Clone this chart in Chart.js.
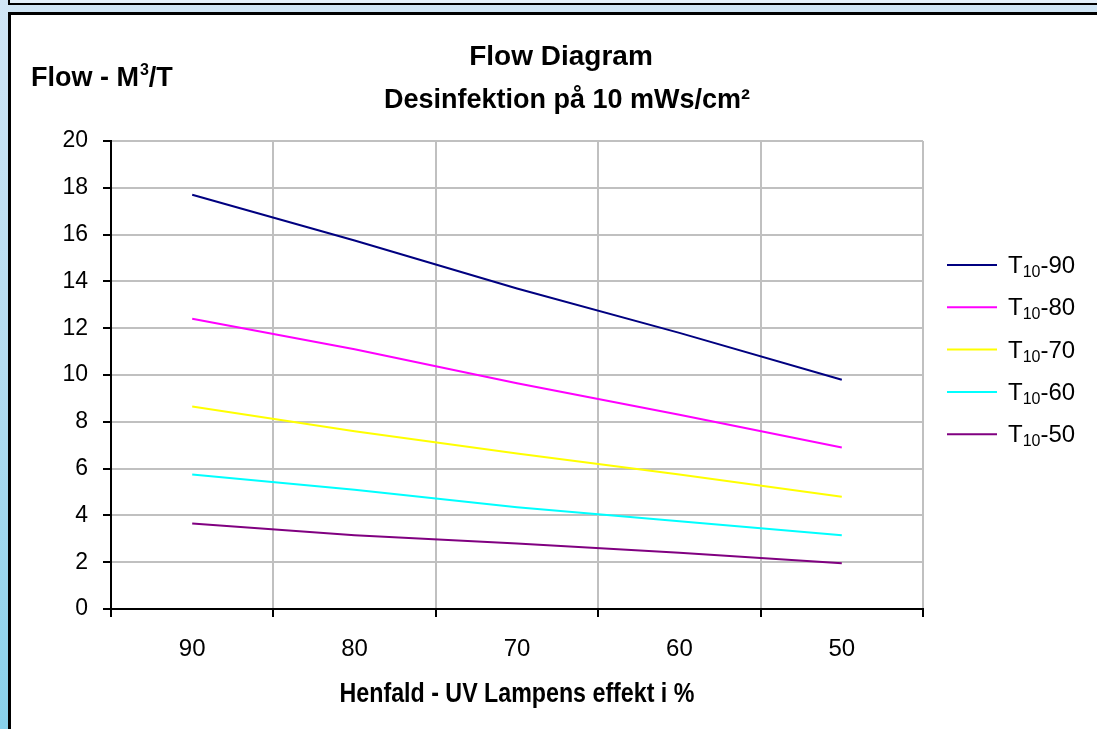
<!DOCTYPE html>
<html>
<head>
<meta charset="utf-8">
<title>Flow Diagram</title>
<script src="https://cdn.jsdelivr.net/npm/chart.js@4.4.1/dist/chart.umd.min.js"></script>
<style>
  html, body { margin: 0; padding: 0; }
  body {
    width: 1097px; height: 729px; overflow: hidden; position: relative;
    background: linear-gradient(to bottom, #d0e5f5 0%, #b4dcf0 50%, #88d1eb 100%);
  }
  #strip {
    position: absolute; left: 8px; top: -10px; width: 1200px; height: 11px;
    background: #e4f0fa; border: 2px solid #000;
  }
  #panel {
    position: absolute; left: 8px; top: 12px; width: 1200px; height: 800px;
    background: #fff; border: 3px solid #000;
  }
  #chart { position: absolute; left: 0; top: 0; }
</style>
</head>
<body>
<div id="strip"></div>
<div id="panel"></div>
<canvas id="chart" width="1097" height="729"></canvas>
<script>
// kategorier (lampeeffekt i %) og serier
const categories = ['90', '80', '70', '60', '50'];
const seriesNames = ['90', '80', '70', '60', '50'];
const t90 = [17.7, 15.75, 13.7, 11.8, 9.8];
const t80 = [12.4, 11.1, 9.65, 8.3, 6.9];
const t70 = [8.65, 7.6, 6.65, 5.75, 4.8];
const t60 = [5.75, 5.1, 4.35, 3.75, 3.15];
const t50 = [3.65, 3.15, 2.8, 2.4, 1.95];
const seriesColors = ['#000080', '#ff00ff', '#ffff00', '#00ffff', '#800080'];
const yMin = 0, yMax = 20, yStep = 2;

const titleLines = ['Flow Diagram', 'Desinfektion på 10 mWs/cm²'];
const xTitle = 'Henfald - UV Lampens effekt i %';

const allSeries = [t90, t80, t70, t60, t50];
const datasets = allSeries.map((vals, i) => ({
  label: 'T10-' + seriesNames[i],
  data: vals,
  borderColor: seriesColors[i],
  backgroundColor: seriesColors[i],
  borderWidth: 2,
  pointRadius: 0,
  tension: 0,
  fill: false
}));

const FONT = '"Liberation Sans", Arial, sans-serif';

// tekster og forklaring tegnes selv
const textPlugin = {
  id: 'texts',
  afterDraw(chart) {
    const ctx = chart.ctx;
    ctx.save();
    ctx.fillStyle = '#000';

    // titel
    ctx.textAlign = 'center';
    ctx.textBaseline = 'alphabetic';
    ctx.font = 'bold 28px ' + FONT;
    ctx.fillText(titleLines[0], 561, 65);
    ctx.font = 'bold 27px ' + FONT;
    ctx.fillText(titleLines[1], 567, 108);

    // y-akse titel: Flow - M³/T
    ctx.textAlign = 'left';
    let x = 31;
    const yb = 86;
    ctx.font = 'bold 27px ' + FONT;
    ctx.fillText('Flow - M', x, yb);
    x += ctx.measureText('Flow - M').width + 1;
    ctx.font = 'bold 16px ' + FONT;
    ctx.fillText('3', x, yb - 11);
    x += ctx.measureText('3').width;
    ctx.font = 'bold 27px ' + FONT;
    ctx.fillText('/T', x, yb);

    // x-akse titel, smal skrift
    ctx.save();
    ctx.translate(517, 702);
    ctx.scale(0.86, 1);
    ctx.textAlign = 'center';
    ctx.font = 'bold 27px ' + FONT;
    ctx.fillText(xTitle, 0, 0);
    ctx.restore();

    // forklaring
    ctx.textAlign = 'left';
    chart.data.datasets.forEach((ds, i) => {
      const y = 265 + i * 42.3;
      ctx.strokeStyle = ds.borderColor;
      ctx.lineWidth = 2;
      ctx.beginPath();
      ctx.moveTo(947, y);
      ctx.lineTo(997, y);
      ctx.stroke();
      let lx = 1008;
      const base = y + 8;
      ctx.font = '24px ' + FONT;
      ctx.fillText('T', lx, base);
      lx += ctx.measureText('T').width;
      ctx.font = '16px ' + FONT;
      ctx.fillText('10', lx, base + 4);
      lx += ctx.measureText('10').width;
      ctx.font = '24px ' + FONT;
      ctx.fillText('-' + seriesNames[i], lx, base);
    });
    ctx.restore();
  }
};

new Chart(document.getElementById('chart'), {
  type: 'line',
  data: { labels: categories, datasets: datasets },
  plugins: [textPlugin],
  options: {
    responsive: false,
    devicePixelRatio: 1,
    animation: false,
    layout: { padding: { left: 0, top: 141, right: 174, bottom: 0 } },
    plugins: {
      legend: { display: false },
      title: { display: false },
      tooltip: { enabled: false }
    },
    scales: {
      x: {
        offset: true,
        grid: {
          offset: true,
          color: ctx => ctx.index === 0 ? 'rgba(0,0,0,0)' : '#c0c0c0',
          lineWidth: 2,
          tickColor: '#000',
          tickLength: 8,
          tickWidth: 2
        },
        border: { color: '#000', width: 2 },
        ticks: {
          color: '#000',
          padding: 18,
          font: { family: FONT, size: 24 }
        },
        afterFit(scale) { scale.height = 120; }
      },
      y: {
        min: yMin,
        max: yMax,
        grid: {
          color: ctx => (ctx.tick && ctx.tick.value === 0) ? 'rgba(0,0,0,0)' : '#c0c0c0',
          lineWidth: 2,
          tickColor: '#000',
          tickLength: 8,
          tickWidth: 2
        },
        border: { color: '#000', width: 2 },
        ticks: {
          stepSize: yStep,
          color: '#000',
          padding: 15,
          font: { family: FONT, size: 23 }
        },
        afterFit(scale) { scale.width = 111; }
      }
    }
  }
});
</script>
</body>
</html>
